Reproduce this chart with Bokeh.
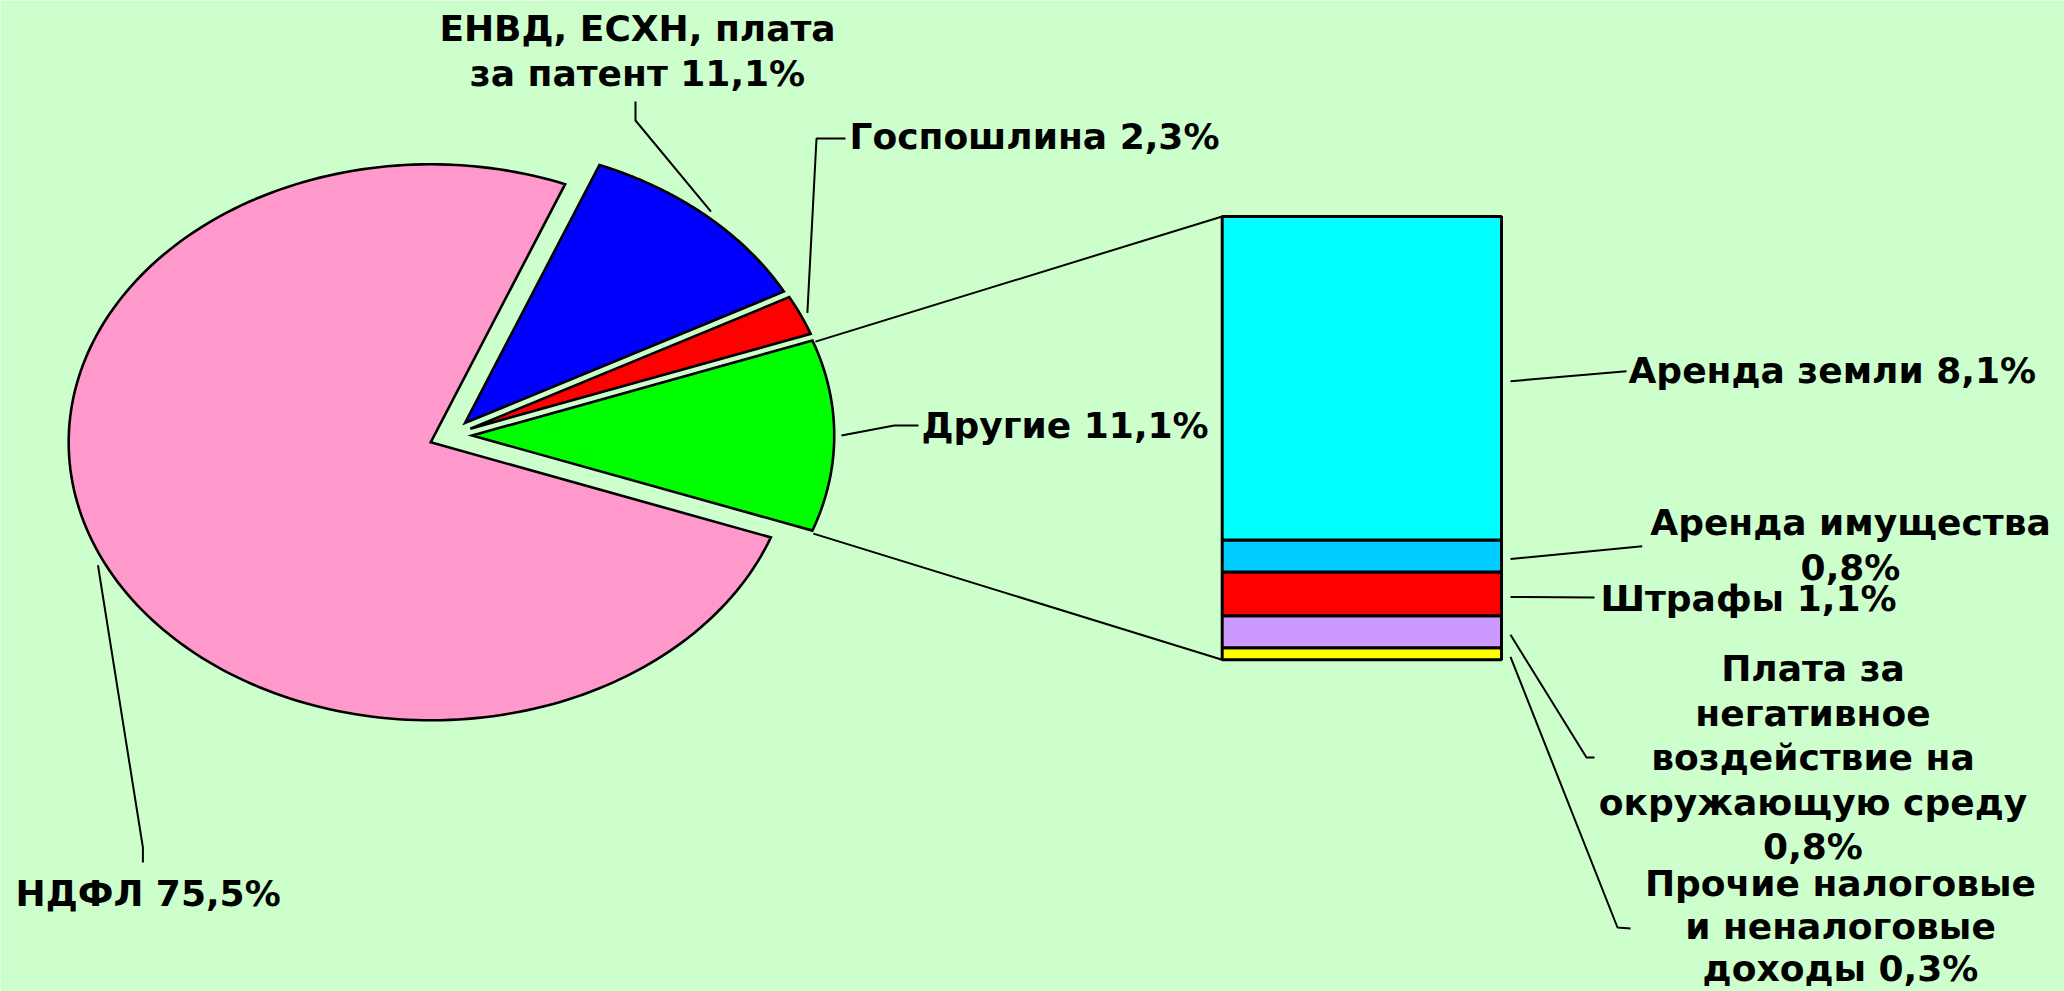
import numpy as np
from bokeh.plotting import figure
from bokeh.models import Range1d
from bokeh.core.properties import value
from bokeh.embed import file_html
from bokeh.resources import INLINE

# ---------------- data ----------------
pie_labels = ["НДФЛ 75,5%", "ЕНВД, ЕСХН, плата\nза патент 11,1%", "Госпошлина 2,3%", "Другие 11,1%"]
pie_values = [75.5, 11.1, 2.3, 11.1]
pie_colors = ["#FF99CC", "#0000FF", "#FF0000", "#00FF00"]

bar_labels = ["Аренда земли 8,1%", "Аренда имущества\n0,8%", "Штрафы 1,1%",
              "Плата за\nнегативное\nвоздействие на\nокружающую среду\n0,8%",
              "Прочие налоговые\nи неналоговые\nдоходы 0,3%"]
bar_values = [8.1, 0.8, 1.1, 0.8, 0.3]          # top to bottom
bar_colors = ["#00FFFF", "#00CCFF", "#FF0000", "#CC99FF", "#FFFF00"]

# ---------------- layout (page pixel space) ----------------
W, H = 2064, 991
BG = "#CCFFCC"
CX, CY = 450.0, 435.0       # pie centre
RX, RY = 362.0, 278.0       # ellipse radii
EXPLODE = 0.06
START_DEG = -20.0           # first slice starts here, slices run clockwise

BAR_LEFT, BAR_RIGHT = 1221.7, 1501.0
BAR_BASE_PX, BAR_TOP_PX = 659.3, 216.0

FONT = value("DejaVu Sans")
FSIZE = "36px"

pie_label_pos = [(15, 893, "left", 45), (637, 50.5, "center", 45),
                 (849, 136, "left", 45), (921, 425, "left", 45)]
pie_leader_pts = [[(142.4, 847), (142.4, 862)], [(635, 120), (635, 101)],
                  [(816, 138), (845, 138)], [(893.7, 425), (918, 425)]]
pie_leader_dang = [1.6, 0.0, 0.0, 0.0]     # small anchor shift along the arc (degrees)

bar_label_pos = [(1628, 370, "left", 45), (1850, 544.5, "center", 45),
                 (1600, 598, "left", 45), (1812.5, 757, "center", 44.5),
                 (1840, 925.5, "center", 42.5)]
bar_leader_pts = [[(1626, 370.7)], [(1641.7, 545.7)], [(1594, 597)],
                  [(1586, 757), (1594, 757)], [(1617, 927), (1630, 928)]]

# ---------------- figure ----------------
p = figure(width=W, height=H, x_range=Range1d(0, W), y_range=Range1d(H, 0),
           output_backend="svg", toolbar_location=None, x_axis_type=None, y_axis_type=None,
           min_border=0, background_fill_color=BG, border_fill_color=BG,
           outline_line_color=None)
p.grid.visible = False

K = (BAR_BASE_PX - BAR_TOP_PX) / sum(bar_values)
p.extra_y_ranges = {"bar": Range1d(start=-(H - BAR_BASE_PX) / K, end=BAR_BASE_PX / K)}


def bar_y(v):
    return BAR_BASE_PX - v * K


# ---------------- pie ----------------
total = sum(pie_values)
xs, ys, tips, angs = [], [], [], []
cum = 0.0
for v in pie_values:
    a0 = START_DEG - 360.0 * cum / total
    a1 = a0 - 360.0 * v / total
    cum += v
    mid = np.radians((a0 + a1) / 2)
    tx = CX + EXPLODE * RX * np.cos(mid)
    ty = CY - EXPLODE * RY * np.sin(mid)
    t = np.radians(np.linspace(a0, a1, 200))
    xs.append(np.concatenate([[tx], tx + RX * np.cos(t)]).tolist())
    ys.append(np.concatenate([[ty], ty - RY * np.sin(t)]).tolist())
    tips.append((tx, ty))
    angs.append((np.radians(a0), np.radians(a1), mid))

p.patches(xs, ys, fill_color=pie_colors, line_color="black", line_width=2.6,
          line_join="miter")

# connector lines from "Другие" to the bar
gtx, gty = tips[-1]
ga0, ga1, _ = angs[-1]
conn_x = [[gtx + RX * np.cos(ga0) + 3, BAR_LEFT], [gtx + RX * np.cos(ga1) + 1, BAR_LEFT]]
conn_y = [[gty - RY * np.sin(ga0) + 1, bar_y(sum(bar_values))], [gty - RY * np.sin(ga1) + 3, bar_y(0)]]
p.multi_line(conn_x, conn_y, line_color="black", line_width=2)

# ---------------- bar ----------------
rev_vals = bar_values[::-1]
rev_cols = bar_colors[::-1]
bottoms = np.concatenate([[0], np.cumsum(rev_vals)[:-1]])
tops = np.cumsum(rev_vals)
p.vbar(x=[(BAR_LEFT + BAR_RIGHT) / 2] * len(rev_vals), width=BAR_RIGHT - BAR_LEFT,
       bottom=bottoms.tolist(), top=tops.tolist(), fill_color=rev_cols,
       line_color="black", line_width=3, y_range_name="bar")

# ---------------- leaders ----------------
lx, ly = [], []
for (tx, ty), (a0, a1, mid), pts, da in zip(tips, angs, pie_leader_pts, pie_leader_dang):
    m = mid + np.radians(da)
    sx = tx + 1.02 * RX * np.cos(m)
    sy = ty - 1.02 * RY * np.sin(m)
    lx.append([sx] + [q[0] for q in pts])
    ly.append([sy] + [q[1] for q in pts])

seg_mid = (bottoms + tops) / 2
seg_mid_top_order = seg_mid[::-1]
for m, pts in zip(seg_mid_top_order, bar_leader_pts):
    sx = BAR_RIGHT + 9
    sy = bar_y(m) + 3
    lx.append([sx] + [q[0] for q in pts])
    ly.append([sy] + [q[1] for q in pts])
p.multi_line(lx, ly, line_color="black", line_width=2)

# ---------------- labels ----------------
tx_, ty_, tt_, ta_ = [], [], [], []
for lab, (x, y, al, lh) in zip(pie_labels + bar_labels, pie_label_pos + bar_label_pos):
    lines = lab.split("\n")
    n = len(lines)
    for i, s in enumerate(lines):
        tx_.append(x)
        ty_.append(y + (i - (n - 1) / 2) * lh)
        tt_.append(s)
        ta_.append(al)
p.text(x=tx_, y=ty_, text=tt_, text_align=ta_, text_baseline="middle",
       text_font=FONT, text_font_style="bold", text_font_size=FSIZE, text_color="black")

open("out.html", "w").write(file_html(p, INLINE))
